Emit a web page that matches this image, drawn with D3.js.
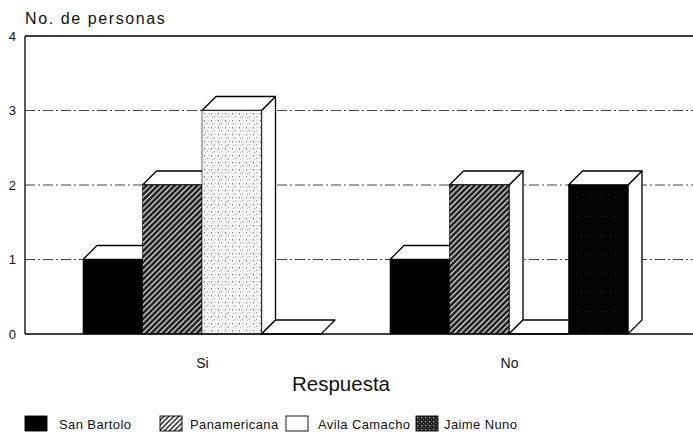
<!DOCTYPE html>
<html>
<head>
<meta charset="utf-8">
<script src="https://cdn.jsdelivr.net/npm/d3@7"></script>
<style>
  html, body { margin: 0; padding: 0; background: #fff; }
  svg { display: block; font-family: "Liberation Sans", Arial, sans-serif; }
</style>
</head>
<body>
<svg id="chart" width="693" height="441"></svg>
<script>
// Respuestas por sede
const categories = ["Si", "No"];
const seriesNames = ["San Bartolo", "Panamericana", "Avila Camacho", "Jaime Nuno"];
const sanBartolo   = [1, 1];
const panamericana = [2, 2];
const avilaCamacho = [3, 0];
const jaimeNuno    = [0, 2];
const yTicks = [0, 1, 2, 3, 4];

const seriesValues = [sanBartolo, panamericana, avilaCamacho, jaimeNuno];
const fills = ["#000", "url(#hatch)", "url(#stipple)", "url(#dark)"];
const legendFills = ["#000", "url(#hatchLight)", "#fff", "url(#speckle)"];

const svg = d3.select("#chart");
const depth = 14;

const y = d3.scaleLinear().domain([0, 4]).range([334, 36]);
const x0 = d3.scaleBand().domain(categories).range([14, 697]).paddingInner(0.2248).paddingOuter(0.2248);
const x1 = d3.scaleBand().domain(seriesNames).range([0, x0.bandwidth()]);

// Fill patterns
const defs = svg.append("defs");
const hatch = defs.append("pattern").attr("id", "hatch").attr("patternUnits", "userSpaceOnUse")
  .attr("width", 4).attr("height", 4).attr("patternTransform", "rotate(-45)");
hatch.append("rect").attr("width", 4).attr("height", 4).attr("fill", "#1c1c1c");
hatch.append("rect").attr("x", 0).attr("y", 0).attr("width", 4).attr("height", 1.3).attr("fill", "#e4e4e4");

const hatchL = defs.append("pattern").attr("id", "hatchLight").attr("patternUnits", "userSpaceOnUse")
  .attr("width", 3.5).attr("height", 3.5).attr("patternTransform", "rotate(-45)");
hatchL.append("rect").attr("width", 3.5).attr("height", 3.5).attr("fill", "#fff");
hatchL.append("rect").attr("width", 3.5).attr("height", 1.6).attr("fill", "#333");

const stip = defs.append("pattern").attr("id", "stipple").attr("patternUnits", "userSpaceOnUse")
  .attr("width", 7).attr("height", 7);
stip.append("rect").attr("width", 7).attr("height", 7).attr("fill", "#f6f6f6");
stip.append("rect").attr("x", 1).attr("y", 1).attr("width", 1).attr("height", 1.5).attr("fill", "#7a7a7a");
stip.append("rect").attr("x", 4).attr("y", 4).attr("width", 1).attr("height", 1).attr("fill", "#999");
stip.append("rect").attr("x", 5).attr("y", 1).attr("width", 1).attr("height", 1).attr("fill", "#c0c0c0");
stip.append("rect").attr("x", 2).attr("y", 5).attr("width", 1).attr("height", 1).attr("fill", "#b5b5b5");

const dark = defs.append("pattern").attr("id", "dark").attr("patternUnits", "userSpaceOnUse")
  .attr("width", 13).attr("height", 19);
dark.append("rect").attr("width", 13).attr("height", 19).attr("fill", "#030303");
dark.append("rect").attr("x", 4).attr("y", 7).attr("width", 1).attr("height", 1).attr("fill", "#1e1e1e");

const speckle = defs.append("pattern").attr("id", "speckle").attr("patternUnits", "userSpaceOnUse")
  .attr("width", 4).attr("height", 4);
speckle.append("rect").attr("width", 4).attr("height", 4).attr("fill", "#222");
speckle.append("rect").attr("x", 1).attr("y", 1).attr("width", 1.2).attr("height", 1.2).attr("fill", "#bbb");
speckle.append("rect").attr("x", 3).attr("y", 3).attr("width", 0.8).attr("height", 0.8).attr("fill", "#999");

// Gridlines
const plotLeft = 25, plotRight = 693;
svg.append("g").selectAll("line").data(yTicks.filter(d => d > 0 && d < 4)).join("line")
  .attr("x1", plotLeft).attr("x2", plotRight)
  .attr("y1", d => y(d)).attr("y2", d => y(d))
  .attr("stroke", "#444").attr("stroke-width", 1)
  .attr("stroke-dasharray", "10,3,2,3");
svg.append("line").attr("x1", plotLeft).attr("x2", plotRight)
  .attr("y1", y(4)).attr("y2", y(4)).attr("stroke", "#000").attr("stroke-width", 1.6);

// Bars with depth
const bars = svg.append("g");
categories.forEach((cat, ci) => {
  seriesNames.forEach((s, si) => {
    const v = seriesValues[si][ci];
    const xl = x0(cat) + x1(s), xr = xl + x1.bandwidth();
    const yt = y(v), yb = y(0);
    const g = bars.append("g").attr("stroke", "#000").attr("stroke-width", 1.3).attr("stroke-linejoin", "round");
    if (v > 0) {
      g.append("path").attr("fill", "#fff")
        .attr("d", `M${xr},${yt}L${xr + depth},${yt - depth}L${xr + depth},${yb - depth}L${xr},${yb}Z`);
    }
    g.append("path").attr("fill", "#fff")
      .attr("d", `M${xl},${yt}L${xl + depth},${yt - depth}L${xr + depth},${yt - depth}L${xr},${yt}Z`);
    if (v > 0) {
      g.append("rect").attr("x", xl).attr("y", yt).attr("width", xr - xl).attr("height", yb - yt)
        .attr("fill", fills[si]).attr("stroke-width", 0.6);
    }
  });
});

// Axes
svg.append("line").attr("x1", plotLeft).attr("x2", plotLeft).attr("y1", y(4)).attr("y2", y(0))
  .attr("stroke", "#000").attr("stroke-width", 1.3);
svg.append("line").attr("x1", plotLeft).attr("x2", plotRight).attr("y1", y(0)).attr("y2", y(0))
  .attr("stroke", "#000").attr("stroke-width", 1.6);

const yAxis = d3.axisLeft(y).tickValues(yTicks).tickFormat(d3.format("d")).tickSize(0).tickPadding(9);
const ya = svg.append("g").attr("transform", `translate(${plotLeft},0)`).call(yAxis);
ya.select(".domain").remove();
ya.selectAll("text").attr("font-size", 13).attr("fill", "#111").attr("font-family", "Liberation Sans, Arial, sans-serif");

const xCenter = d3.scalePoint().domain(categories).range([x0("Si") + x0.bandwidth() / 2, x0("No") + x0.bandwidth() / 2]);
const xAxis = d3.axisBottom(xCenter).tickSize(0).tickPadding(24);
const xa = svg.append("g").attr("transform", `translate(0,${y(0)})`).call(xAxis);
xa.select(".domain").remove();
xa.selectAll("text").attr("font-size", 14).attr("fill", "#111").attr("font-family", "Liberation Sans, Arial, sans-serif");

// Titles
svg.append("text").attr("x", 25).attr("y", 24).attr("font-size", 16).attr("fill", "#111")
  .attr("letter-spacing", 1.6).text("No. de personas");
svg.append("text").attr("x", 341).attr("y", 391).attr("text-anchor", "middle")
  .attr("font-size", 20.5).attr("fill", "#111").text("Respuesta");

// Legend
const legendX = [25, 160, 286, 416];
const legendTX = [59, 190, 318, 444];
const lg = svg.append("g");
seriesNames.forEach((s, i) => {
  lg.append("rect").attr("x", legendX[i]).attr("y", 416).attr("width", 22).attr("height", 15)
    .attr("fill", legendFills[i]).attr("stroke", "#000").attr("stroke-width", 0.9);
  lg.append("text").attr("x", legendTX[i]).attr("y", 429).attr("font-size", 13)
    .attr("letter-spacing", 0.4).attr("fill", "#111").text(s);
});
</script>
</body>
</html>
